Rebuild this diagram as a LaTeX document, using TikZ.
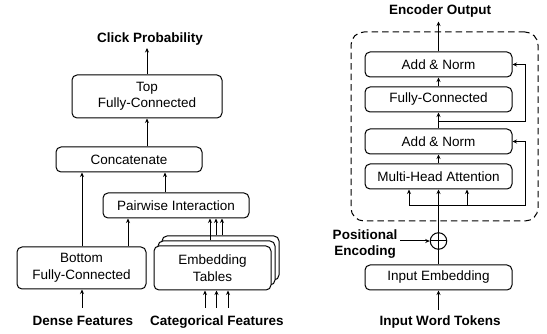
\documentclass[tikz,border=0pt]{standalone}
\usepackage{fontspec}
\setmainfont{Liberation Sans}
\usetikzlibrary{arrows.meta,calc}
\begin{document}
\begin{tikzpicture}[x=1pt,y=-1pt]
\tikzset{
 box/.style={draw, line width=1pt, rounded corners=5pt, fill=white, align=center, inner sep=0pt, font=\fontsize{13.5}{16.5}\selectfont},
 lbl/.style={font=\fontsize{13.5}{16}\selectfont\bfseries, inner sep=0pt, align=center},
 arr/.style={-{Stealth[length=4.5pt,width=4pt]}, line width=1pt},
 ln/.style={line width=1pt}
}
\useasboundingbox (0,0) rectangle (547,334);
% ---------- left diagram ----------
\node[box, minimum width=150pt, minimum height=43pt] (top) at (147,96.5) {Top\\Fully-Connected};
\node[box, minimum width=146pt, minimum height=25pt] (cat) at (129,159.5) {Concatenate};
\node[box, minimum width=146pt, minimum height=25pt] (pw) at (176,205.5) {Pairwise Interaction};
\node[box, minimum width=129pt, minimum height=42pt] (bfc) at (81.5,268) {Bottom\\Fully-Connected};
\node[box, minimum width=117pt, minimum height=44pt] (emb3) at (220.5,258) {};
\node[box, minimum width=117pt, minimum height=44pt] (emb2) at (216.5,263) {};
\node[box, minimum width=117pt, minimum height=44pt] (emb) at (212.5,268) {Embedding\\Tables};

\node[lbl, anchor=base] (click) at (150,42.7) {Click Probability};
\node[lbl, anchor=base] (dense) at (83,325.5) {Dense Features};
\node[lbl, anchor=base] (catf) at (217,325.5) {Categorical Features};

\coordinate (xa) at (128,0);
\coordinate (xb) at (165,0);
\coordinate (e1) at (210,0);
\coordinate (e2) at (216,0);
\coordinate (e3) at (222,0);
\coordinate (i1) at (205,308);
\coordinate (i2) at (216.5,308);
\coordinate (i3) at (228,308);
\coordinate (din) at (82,308);
\coordinate (cpt) at (147,48);

\draw[arr] (top.north) -- (top.north |- cpt);
\draw[arr] (top.south |- cat.north) -- (top.south);
\draw[arr] (bfc.north -| din) -- (cat.south -| din);
\draw[arr] (bfc.north -| xa) -- (pw.south -| xa);
\draw[arr] (pw.north -| xb) -- (cat.south -| xb);
\draw[arr] (emb2.north -| e1) -- (pw.south -| e1);
\draw[arr] (emb3.north -| e2) -- (pw.south -| e2);
\draw[arr] (emb3.north -| e3) -- (pw.south -| e3);
\draw[arr] (din) -- (bfc.south -| din);
\draw[arr] (i1) -- (emb.south -| i1);
\draw[arr] (i2) -- (emb.south -| i2);
\draw[arr] (i3) -- (emb.south -| i3);

% ---------- right diagram ----------
\node[draw, dash pattern=on 6.5pt off 4pt, rounded corners=13pt, line width=1pt, minimum width=187pt, minimum height=189pt, inner sep=0pt] (enc) at (444.5,126.5) {};
\node[box, minimum width=147pt, minimum height=25pt] (an1) at (438.5,64.5) {Add \& Norm};
\node[box, minimum width=147pt, minimum height=25pt] (fc) at (438.5,99.5) {Fully-Connected};
\node[box, minimum width=147pt, minimum height=25pt] (an2) at (438.5,141.5) {Add \& Norm};
\node[box, minimum width=147pt, minimum height=25pt] (mha) at (438.5,176.5) {Multi-Head Attention};
\node[box, minimum width=147pt, minimum height=25pt] (ie) at (438.5,277.5) {Input Embedding};
\node[draw, circle, line width=1pt, minimum size=16.5pt, inner sep=0pt] (plus) at (438.5,241) {};
\draw[ln] (plus.north) -- (plus.south) (plus.west) -- (plus.east);

\node[lbl, anchor=base] (eo) at (440,15) {Encoder Output};
\node[lbl, anchor=base] (iwt) at (440,325.5) {Input Word Tokens};
\node[lbl, anchor=north] (pos) at (365,229.5) {Positional\\Encoding};

\coordinate (eopt) at (438.5,21.5);
\coordinate (iwpt) at (438.5,310);
\coordinate (pe) at (400,241);
\coordinate (r1) at (438.5,122);
\coordinate (r1c) at (525,122);
\coordinate (r2) at (525,205.5);
\coordinate (ml) at (409,205.5);
\coordinate (mr) at (467,205.5);

\draw[arr] (an1.north) -- (eopt);
\draw[arr] (fc.north) -- (an1.south);
\draw[arr] (an2.north) -- (fc.south);
\draw[arr] (mha.north) -- (an2.south);
\draw[arr] (plus.north) -- (mha.south);
\draw[ln] (ie.north) -- (plus.south);
\draw[arr] (iwpt) -- (ie.south);
\draw[arr] (pe) -- (plus.west);
\draw[arr] (r1) -- (r1c) -- (r1c |- an1.east) -- (an1.east);
\draw[arr] (ml) -- (r2) -- (r2 |- an2.east) -- (an2.east);
\draw[arr] (ml) -- (mha.south -| ml);
\draw[arr] (mr) -- (mha.south -| mr);
\end{tikzpicture}
\end{document}
